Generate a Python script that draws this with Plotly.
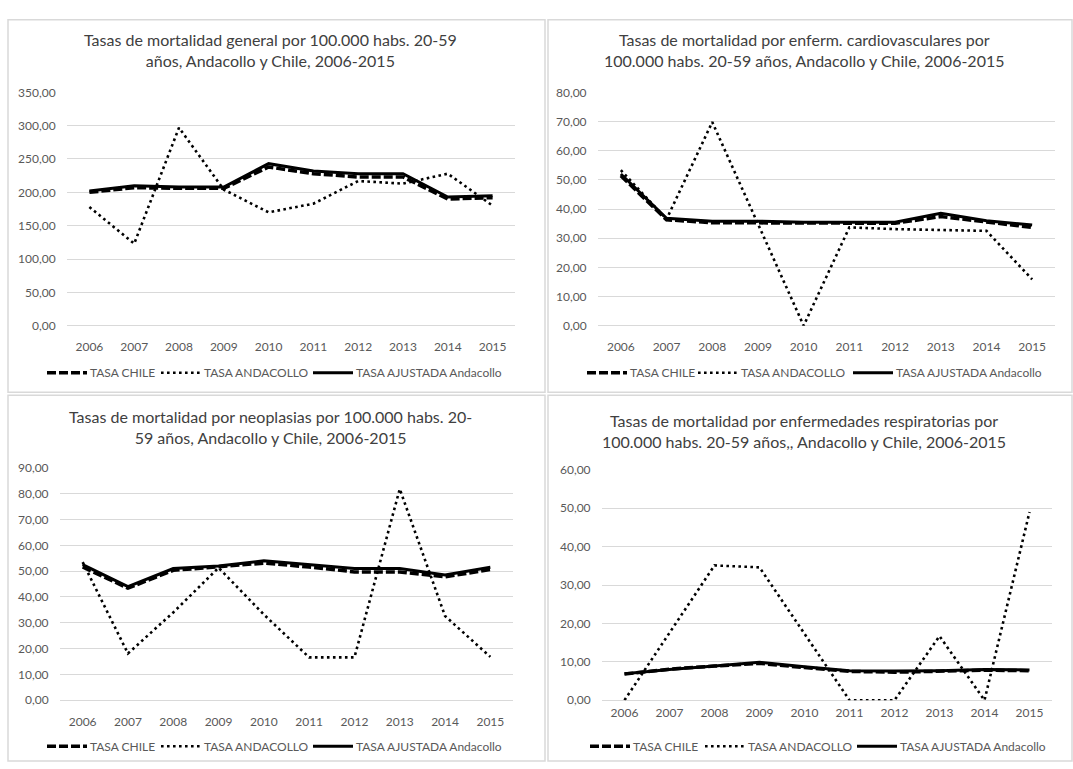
import plotly.graph_objects as go

W, H = 1073, 769

years = [str(y) for y in range(2006, 2016)]

# Mortalidad general (por 100.000 habs. 20-59 años)
general_chile = [200.0, 207.0, 206.0, 206.0, 238.0, 228.0, 223.0, 223.0, 190.0, 192.0]
general_andacollo = [178.0, 123.0, 297.0, 204.0, 170.0, 183.0, 217.0, 213.0, 228.0, 180.0]
general_ajustada = [202.0, 210.0, 208.0, 208.0, 243.0, 232.0, 228.0, 228.0, 193.0, 195.0]

# Enfermedades cardiovasculares
cardio_chile = [51.4, 36.3, 35.3, 35.2, 35.1, 35.0, 35.1, 37.4, 35.4, 33.7]
cardio_andacollo = [53.3, 36.5, 69.8, 34.9, 0.0, 33.7, 33.1, 32.8, 32.5, 15.9]
cardio_ajustada = [52.0, 36.8, 35.8, 35.8, 35.5, 35.5, 35.5, 38.5, 36.0, 34.5]

# Neoplasias
neo_chile = [51.6, 43.4, 50.3, 51.6, 53.1, 51.6, 49.7, 49.7, 47.8, 50.6]
neo_andacollo = [53.5, 18.1, 34.0, 51.3, 33.2, 16.6, 16.6, 81.8, 32.6, 16.8]
neo_ajustada = [52.5, 44.0, 51.0, 52.0, 54.0, 52.5, 51.0, 51.0, 48.5, 51.5]

# Enfermedades respiratorias
resp_chile = [6.8, 8.1, 8.9, 9.6, 8.5, 7.5, 7.3, 7.5, 7.8, 7.7]
resp_andacollo = [0.0, 17.5, 35.1, 34.6, 17.3, 0.0, 0.0, 16.7, 0.0, 49.0]
resp_ajustada = [6.9, 8.0, 8.9, 9.9, 8.7, 7.7, 7.6, 7.7, 8.0, 7.9]

titles = [
    "Tasas de mortalidad general por 100.000 habs. 20-59<br>años, Andacollo y Chile, 2006-2015",
    "Tasas de mortalidad por enferm. cardiovasculares por<br>100.000 habs. 20-59 años, Andacollo y Chile, 2006-2015",
    "Tasas de mortalidad por neoplasias por 100.000 habs. 20-<br>59 años, Andacollo y Chile, 2006-2015",
    "Tasas de mortalidad por enfermedades respiratorias por<br>100.000 habs. 20-59 años,, Andacollo y Chile, 2006-2015",
]
series_names = ["TASA CHILE", "TASA ANDACOLLO", "TASA AJUSTADA Andacollo"]
y_max = [350, 80, 90, 60]
y_step = [50, 10, 10, 10]

panel_data = [
    (general_chile, general_andacollo, general_ajustada),
    (cardio_chile, cardio_andacollo, cardio_ajustada),
    (neo_chile, neo_andacollo, neo_ajustada),
    (resp_chile, resp_andacollo, resp_ajustada),
]

# pixel geometry of each chart box
frames = [(8, 12, 545, 392), (548, 12, 1072, 392), (8, 395, 545, 768), (548, 395, 1072, 768)]
plot_x = [(67, 515), (598, 1055), (60, 513), (602, 1052)]
plot_y = [(324, 86), (324, 86), (706, 469), (706, 471)]
title_y = [43, 43, 427, 431]
legend_y = [372, 372, 753, 753]
xlabel_pad = [10, 10, 10, 1]
# legend key start positions (x of sample line start) for each panel
legend_keys = [
    [47, 161, 313],
    [587, 698, 853],
    [47, 161, 313],
    [590, 705, 857],
]
KEY_LEN = 40

TEXT = "#595959"
GRID = "#d9d9d9"
FONT = "Lato"

def px(x):
    return x / W

def py(y):
    return 1 - y / H

line_styles = [
    dict(color="black", width=3.5, dash="9px,3px"),
    dict(color="black", width=2.6, dash="2.6px,3.4px"),
    dict(color="black", width=3, dash="solid"),
]

fig = go.Figure()
layout = {}
for i in range(4):
    sfx = "" if i == 0 else str(i + 1)
    for name, vals, style in zip(series_names, panel_data[i], line_styles):
        fig.add_trace(go.Scatter(
            x=years, y=vals, name=name, mode="lines", line=style,
            xaxis="x" + sfx, yaxis="y" + sfx, showlegend=False,
        ))
    x0, x1 = plot_x[i]
    yb, yt = plot_y[i]
    layout["xaxis" + sfx] = dict(
        domain=[px(x0), px(x1)], anchor="y" + sfx, type="category",
        range=[-0.5, 9.5], showgrid=False, showline=False, zeroline=False,
        ticks="outside", ticklen=xlabel_pad[i], tickcolor="rgba(0,0,0,0)",
        tickfont=dict(family=FONT, size=12, color=TEXT), fixedrange=True,
    )
    layout["yaxis" + sfx] = dict(
        domain=[py(yb), py(yt)], anchor="x" + sfx, range=[0, y_max[i]],
        dtick=y_step[i], tickformat=".2f", showgrid=True, gridcolor=GRID,
        gridwidth=1, zeroline=True, zerolinecolor=GRID, zerolinewidth=1,
        showline=False, ticks="outside", ticklen=8, tickcolor="rgba(0,0,0,0)",
        tickfont=dict(family=FONT, size=12, color=TEXT), fixedrange=True,
    )

shapes = []
annotations = []
for i, (fx0, fy0, fx1, fy1) in enumerate(frames):
    shapes.append(dict(type="rect", xref="paper", yref="paper",
                       x0=px(fx0), x1=px(fx1), y0=py(fy1), y1=py(fy0),
                       line=dict(color=GRID, width=1.5), fillcolor="rgba(0,0,0,0)"))
    annotations.append(dict(text=titles[i], xref="paper", yref="paper",
                            x=px((fx0 + fx1) / 2 - 6), y=py(title_y[i]),
                            xanchor="center", yanchor="middle", showarrow=False,
                            align="center",
                            font=dict(family=FONT, size=16, color="#404040")))
    # legend: key line followed directly by its label
    for kx, name, style in zip(legend_keys[i], series_names, line_styles):
        shapes.append(dict(type="line", xref="paper", yref="paper",
                           x0=px(kx), x1=px(kx + KEY_LEN),
                           y0=py(legend_y[i]), y1=py(legend_y[i]), line=style))
        annotations.append(dict(text=name, xref="paper", yref="paper",
                                x=px(kx + KEY_LEN + 1), y=py(legend_y[i]),
                                xanchor="left", yanchor="middle", showarrow=False,
                                font=dict(family=FONT, size=12, color=TEXT)))

fig.update_layout(
    width=W, height=H, margin=dict(l=0, r=0, t=0, b=0),
    paper_bgcolor="white", plot_bgcolor="white", showlegend=False,
    separators=",.", shapes=shapes, annotations=annotations,
    **layout,
)

fig.write_html("out.html", config={"displayModeBar": False})
